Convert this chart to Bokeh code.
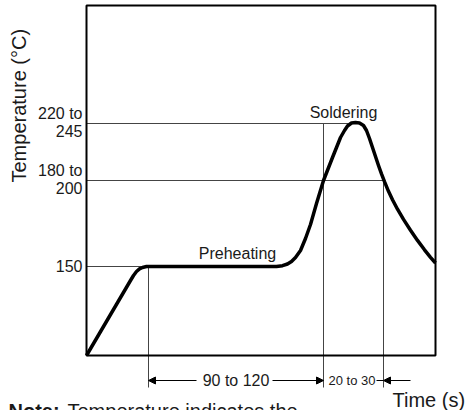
from math import pi

from bokeh.plotting import figure
from bokeh.models import Range1d, Arrow, NormalHead, ColumnDataSource
from bokeh.core.properties import value
from bokeh.embed import file_html
from bokeh.resources import INLINE

FONT = "Liberation Sans"
INK = "#1a1a1a"
RULE = "#444444"

# ---- data (schematic reflow profile) ----
# time runs 0..349 across the box, temperature 0..350 up the box (schematic)
box_time = [0, 349]
box_temp = [0, 350]

curve_time = [0, 44, 47, 50, 53, 56, 60, 62, 190, 196, 201, 205, 209,
              214, 219, 224, 230, 237, 246, 254, 258, 261, 265, 269, 273,
              277, 280, 283, 286, 289, 292, 295, 298, 302, 306, 311, 317,
              324, 331, 338, 344, 349]
curve_temp = [0, 75, 80, 84, 86.6, 88, 89, 89, 89, 89.8, 91.5, 94, 98,
              105, 117, 131, 152, 175, 198, 218, 225, 229.5, 232.5, 233,
              232.5, 230, 225, 217, 208, 199, 190, 181.6, 173.8, 164.2,
              155.8, 146.3, 136.1, 125.3, 115.1, 105.7, 98.2, 92.5]

level_temp = [89, 175, 232]
level_labels = ["150", "180 to\n200", "220 to\n245"]
level_end_time = [62, 297, 262]

mark_time = [62, 237, 297]
mark_top = [89, 232, 175]
mark_bottom = -32

dim_y = -25
dim1_label = "90 to 120"
dim2_label = "20 to 30"

phase_labels = ["Soldering", "Preheating"]
phase_time = [257, 151]
phase_temp = [243, 102]

# ---- figure: the frame fills the whole canvas ----
p = figure(width=466, height=410, output_backend="svg", toolbar_location=None,
           x_range=Range1d(-86, 380), y_range=Range1d(-55, 355),
           min_border=0)
p.styles = {"position": "absolute", "left": "0px", "top": "0px"}
p.background_fill_color = "white"
p.border_fill_color = "white"
p.outline_line_color = None
p.grid.visible = False
p.axis.visible = False

# level rules
lev = ColumnDataSource(dict(x0=[0] * len(level_temp), x1=level_end_time,
                            y=level_temp))
p.segment(x0="x0", y0="y", x1="x1", y1="y", source=lev,
          line_color=RULE, line_width=1)

# vertical markers (extend below the box)
mk = ColumnDataSource(dict(x=mark_time, top=mark_top,
                           bottom=[mark_bottom] * len(mark_time)))
p.segment(x0="x", y0="top", x1="x", y1="bottom", source=mk,
          line_color=RULE, line_width=1)

# box
p.quad(left=box_time[0], right=box_time[1], bottom=box_temp[0],
       top=box_temp[1], fill_color=None, line_color="black", line_width=2)

# tick labels for the levels
p.text(x=[-4] * len(level_temp), y=level_temp, text=level_labels,
       text_font=value(FONT), text_font_size="16px", text_color=INK,
       text_align="right", text_baseline="middle", text_line_height=1.08,
       y_offset=-1)

# profile curve
p.line(curve_time, curve_temp, line_width=3.5, line_color="black",
       line_join="round", line_cap="butt")

# phase labels
p.text(x=phase_time, y=phase_temp, text=phase_labels,
       text_font=value(FONT), text_font_size="16px", text_color=INK,
       text_align="center", text_baseline="middle")

# dimension arrows
def head():
    return NormalHead(size=7, fill_color="black", line_color="black",
                      line_width=1)

p.add_layout(Arrow(end=head(), x_start=110, y_start=dim_y,
                   x_end=mark_time[0], y_end=dim_y,
                   line_color="black", line_width=1))
p.add_layout(Arrow(end=head(), x_start=186, y_start=dim_y,
                   x_end=mark_time[1], y_end=dim_y,
                   line_color="black", line_width=1))
p.add_layout(Arrow(end=None, x_start=290, y_start=dim_y,
                   x_end=mark_time[2], y_end=dim_y,
                   line_color="black", line_width=1))
p.add_layout(Arrow(end=head(), x_start=324, y_start=dim_y,
                   x_end=mark_time[2], y_end=dim_y,
                   line_color="black", line_width=1))
p.text(x=[(mark_time[0] + mark_time[1]) / 2], y=[dim_y], text=[dim1_label],
       text_font=value(FONT), text_font_size="16px", text_color=INK,
       text_align="center", text_baseline="middle")
p.text(x=[265.5], y=[dim_y], text=[dim2_label],
       text_font=value(FONT), text_font_size="13px", text_color=INK,
       text_align="center", text_baseline="middle")

# axis titles and note (text glyphs placed in the same coordinates)
p.text(x=[-68], y=[173], text=["Temperature (°C)"], angle=pi / 2,
       text_font=value(FONT), text_font_size="20px", text_color=INK,
       text_align="left", text_baseline="middle")
p.text(x=[306], y=[-44], text=["Time (s)"],
       text_font=value(FONT), text_font_size="20px", text_color=INK,
       text_align="left", text_baseline="middle")
p.text(x=[-78], y=[-55], text=["Note:"],
       text_font=value(FONT), text_font_style="bold", text_font_size="20px",
       text_color=INK, text_align="left", text_baseline="middle")
p.text(x=[-19], y=[-55], text=["Temperature indicates the"],
       text_font=value(FONT), text_font_size="20px", text_color=INK,
       text_align="left", text_baseline="middle")

open("out.html", "w").write(file_html(p, INLINE))
